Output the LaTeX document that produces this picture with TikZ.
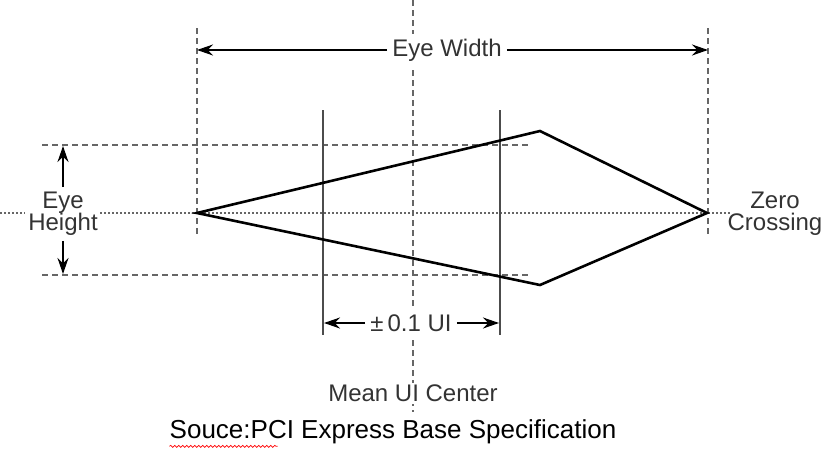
\documentclass[tikz,border=0pt]{standalone}
\usepackage{fontspec}
\setmainfont{Liberation Sans}
\usetikzlibrary{arrows.meta,decorations.pathmorphing}
\begin{document}
\begin{tikzpicture}
        [x=1pt,y=-1pt,
         label_style/.style={font=\fontsize{24}{26}\selectfont,text=black!80,align=center,inner sep=5pt},
         dash_style/.style={draw=black!60,dashed,dash pattern=on 6pt off 4pt,line width=1.3pt},
         dot_style/.style={draw=black!60,dash pattern=on 2pt off 2pt,line width=1.2pt},
         edge_style/.style={draw=black,line width=2.6pt},
         arrow_style/.style={draw=black,line width=1.8pt,-{Stealth[length=16pt,width=11pt]}}]
            \useasboundingbox (0,0) rectangle (836,458);
            % guide lines
            \draw[dash_style] (413,0) -- (413,412);
            \draw[dash_style] (197,28) -- (197,235);
            \draw[dash_style] (708,28) -- (708,235);
            \draw[dash_style] (42,145) -- (530,145);
            \draw[dash_style] (42,275) -- (530,275);
            \draw[dot_style] (0,213) -- (25,213);
            \draw[dot_style] (100,213) -- (730,213);
            \draw[draw=black!70,line width=1.6pt] (323,110) -- (323,335);
            \draw[draw=black!70,line width=1.6pt] (500,110) -- (500,335);
            % eye
            \coordinate (e_left) at (197,213);
            \coordinate (e_top) at (540,131);
            \coordinate (e_right) at (707,213);
            \coordinate (e_bottom) at (540,285);
            \draw[edge_style,line join=miter] (e_left) -- (e_top) -- (e_right) -- (e_bottom) -- cycle;
            % labels
            \node[label_style,fill=white] (width) at (447,50) {Eye Width};
            \coordinate (w_left) at (197,50);
            \coordinate (w_right) at (708,50);
            \draw[arrow_style] (width) -- (w_left);
            \draw[arrow_style] (width) -- (w_right);
            \node[label_style] (height) at (63,214) {Eye\\[-4pt]Height};
            \coordinate (h_top) at (63,146);
            \coordinate (h_bot) at (63,274);
            \draw[arrow_style] (height) -- (h_top);
            \draw[arrow_style] (height) -- (h_bot);
            \node[label_style,fill=white] (ui) at (411,323) {±\,0.1 UI};
            \coordinate (ui_left) at (324,323);
            \coordinate (ui_right) at (499,323);
            \draw[arrow_style] (ui) -- (ui_left);
            \draw[arrow_style] (ui) -- (ui_right);
            \node[label_style] (zero) at (775,214) {Zero\\[-4pt]Crossing};
            \node[label_style,fill=white,inner sep=2pt] (mean) at (413,393) {Mean UI Center};
            \node[font=\fontsize{26}{28}\selectfont,inner sep=1pt] (src) at (393,432) {Souce:PCI Express Base Specification};
            \draw[red,line width=0.7pt,decorate,decoration={snake,amplitude=1pt,segment length=4pt}]
                (src.south west) ++(1,1) -- ++(108,0);
        \end{tikzpicture}
\end{document}
